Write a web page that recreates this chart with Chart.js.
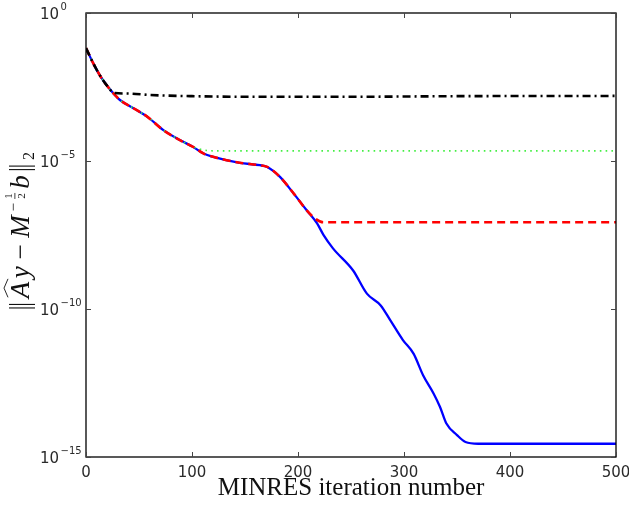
<!DOCTYPE html>
<html>
<head>
<meta charset="utf-8">
<script src="https://cdn.jsdelivr.net/npm/chart.js@4.4.1/dist/chart.umd.min.js"></script>
<style>
  html, body { margin: 0; padding: 0; background: #fff; }
</style>
</head>
<body>
<canvas id="residual_chart" width="629" height="505"></canvas>
<script>
// residual norm history per MINRES iteration, one pair of arrays per run
const itsSolid = [0, 7, 14, 22, 27, 32, 45, 58, 73, 89, 101, 111, 120, 145, 164, 171, 183, 196, 208, 218, 224, 233, 252, 265, 278, 287, 299, 309, 318, 328, 334, 340, 350, 358, 370, 500];
const resSolid = [6.5e-2, 1.95e-2, 6.9e-3, 2.8e-3, 1.74e-3, 1.15e-3, 6.0e-4, 3.1e-4, 1.1e-4, 5.0e-5, 3.0e-5, 1.78e-5, 1.38e-5, 8.7e-6, 7.2e-6, 6.3e-6, 2.9e-6, 7.9e-7, 2.2e-7, 7.8e-8, 3.2e-8, 1.12e-8, 2.0e-9, 3.3e-10, 1.32e-10, 4.2e-11, 8.9e-12, 3.1e-12, 5.8e-13, 1.38e-13, 4.9e-14, 1.35e-14, 5.5e-15, 3.2e-15, 2.8e-15, 2.8e-15];

const itsDashed = [0, 7, 14, 22, 27, 32, 45, 58, 73, 89, 101, 111, 120, 145, 164, 171, 183, 196, 208, 216, 224, 500];
const resDashed = [6.5e-2, 1.95e-2, 6.9e-3, 2.8e-3, 1.74e-3, 1.15e-3, 6.0e-4, 3.1e-4, 1.1e-4, 5.0e-5, 3.0e-5, 1.78e-5, 1.38e-5, 8.7e-6, 7.2e-6, 6.3e-6, 2.9e-6, 7.9e-7, 2.2e-7, 1.15e-7, 8.5e-8, 8.5e-8];

const itsDotted = [0, 7, 14, 22, 27, 32, 45, 58, 73, 89, 101, 106, 120, 500];
const resDotted = [6.5e-2, 1.95e-2, 6.9e-3, 2.8e-3, 1.74e-3, 1.15e-3, 6.0e-4, 3.1e-4, 1.1e-4, 5.0e-5, 3.0e-5, 2.6e-5, 2.2e-5, 2.2e-5];

const itsDashDot = [0, 7, 14, 22, 26, 40, 60, 100, 150, 250, 350, 500];
const resDashDot = [6.5e-2, 1.95e-2, 6.9e-3, 2.8e-3, 2.0e-3, 1.9e-3, 1.7e-3, 1.55e-3, 1.48e-3, 1.48e-3, 1.55e-3, 1.58e-3];

const xTicks = [0, 100, 200, 300, 400, 500];
const yTickExps = [0, -5, -10, -15];
const xTitle = "MINRES iteration number";

const pts = (its, res) => its.map((it, i) => ({ x: it, y: res[i] }));

const line = (data, color, width, dash, order) => ({
  data,
  borderColor: color,
  borderWidth: width,
  borderDash: dash,
  pointRadius: 0,
  fill: false,
  order,
  cubicInterpolationMode: "monotone",
});

// frame, inward ticks on all four sides, tick labels and axis titles
const axesPlugin = {
  id: "axes",
  afterDraw(chart) {
    const { ctx, chartArea: a, scales } = chart;
    const xs = scales.x, ys = scales.y;
    ctx.save();

    ctx.strokeStyle = "#000";
    ctx.lineWidth = 1.3;
    ctx.strokeRect(a.left, a.top, a.right - a.left, a.bottom - a.top);

    ctx.strokeStyle = "#444";
    ctx.lineWidth = 1;
    const tl = 5;
    xTicks.forEach((v) => {
      const px = Math.round(xs.getPixelForValue(v)) + 0.5;
      ctx.beginPath();
      ctx.moveTo(px, a.bottom); ctx.lineTo(px, a.bottom - tl);
      ctx.moveTo(px, a.top); ctx.lineTo(px, a.top + tl);
      ctx.stroke();
    });
    yTickExps.forEach((e) => {
      const py = Math.round(ys.getPixelForValue(Math.pow(10, e))) + 0.5;
      ctx.beginPath();
      ctx.moveTo(a.left, py); ctx.lineTo(a.left + tl, py);
      ctx.moveTo(a.right, py); ctx.lineTo(a.right - tl, py);
      ctx.stroke();
    });

    ctx.fillStyle = "#2a2a2a";
    ctx.textBaseline = "alphabetic";
    ctx.font = '15px "DejaVu Sans"';
    ctx.textAlign = "center";
    xTicks.forEach((v) => {
      ctx.fillText(String(v), xs.getPixelForValue(v), a.bottom + 20);
    });

    ctx.textAlign = "left";
    yTickExps.forEach((e) => {
      const py = ys.getPixelForValue(Math.pow(10, e));
      ctx.font = '15px "DejaVu Sans"';
      ctx.fillText("10", 40, py + 6);
      const w = ctx.measureText("10").width;
      ctx.font = '10px "DejaVu Sans"';
      ctx.fillText(e === 0 ? "0" : "\u2212" + String(-e), 40 + w + 1.5, py - 3.5);
    });

    ctx.fillStyle = "#111";
    ctx.font = '25px "Liberation Serif"';
    ctx.textAlign = "center";
    ctx.fillText(xTitle, (a.left + a.right) / 2, 495);

    drawYTitle(ctx, 29, (a.top + a.bottom) / 2 - 4, 158);
    ctx.restore();
  },
};

// ‖Ây − M^(−1/2) b‖₂ rotated along the left edge, spread over `len` px
function drawYTitle(ctx, bx, cy, len) {
  const up = '27px "Liberation Serif"';
  const it = 'italic 27px "Liberation Serif"';
  const runs = [
    { norm: true, w: 8 },
    { t: "A", f: it, dy: 0, hat: true },
    { t: "y", f: it, dy: 0 },
    { t: "\u2212", f: up, dy: 0, pad: 3 },
    { t: "M", f: it, dy: 0 },
    { t: "\u2212", f: '15px "Liberation Serif"', dy: -11 },
    { frac: true, w: 7 },
    { t: "b", f: it, dy: 0 },
    { norm: true, w: 8 },
    { t: "2", f: '16px "Liberation Serif"', dy: 5 },
  ];
  let total = 0;
  runs.forEach((r) => {
    if (r.t) { ctx.font = r.f; r.w = ctx.measureText(r.t).width + 2 * (r.pad || 0); }
    total += r.w;
  });
  const gap = Math.max(0, (len - total) / (runs.length - 1));
  ctx.save();
  ctx.translate(bx, cy);
  ctx.rotate(-Math.PI / 2);
  ctx.textAlign = "left";
  ctx.textBaseline = "alphabetic";
  ctx.strokeStyle = ctx.fillStyle;
  let x = -(total + gap * (runs.length - 1)) / 2;
  runs.forEach((r) => {
    if (r.norm) {
      ctx.fillRect(x + 1.5, -20, 1.1, 26);
      ctx.fillRect(x + 5, -20, 1.1, 26);
    } else if (r.frac) {
      ctx.font = '11px "Liberation Serif"';
      ctx.textAlign = "center";
      ctx.fillText("1", x + r.w / 2, -17);
      ctx.fillText("2", x + r.w / 2, -4);
      ctx.fillRect(x + 0.5, -14.5, r.w - 1, 0.8);
      ctx.textAlign = "left";
    } else {
      ctx.font = r.f;
      ctx.fillText(r.t, x + (r.pad || 0), r.dy);
      if (r.hat) {
        ctx.beginPath();
        ctx.lineWidth = 0.9;
        ctx.moveTo(x + 1, -21);
        ctx.lineTo(x + r.w / 2 + 2, -25);
        ctx.lineTo(x + r.w + 3, -21);
        ctx.stroke();
      }
    }
    x += r.w + gap;
  });
  ctx.restore();
}

new Chart(document.getElementById("residual_chart"), {
  type: "line",
  data: {
    datasets: [
      line(pts(itsSolid, resSolid), "#0000ff", 2.3, [], 3),
      line(pts(itsDotted, resDotted), "#44ee44", 1.6, [1.6, 4.2], 2),
      line(pts(itsDashed, resDashed), "#ff0000", 2.6, [8, 5], 1),
      line(pts(itsDashDot, resDashDot), "#000000", 2.6, [8, 4, 2, 4], 0),
    ],
  },
  options: {
    responsive: false,
    devicePixelRatio: 1,
    animation: false,
    layout: { padding: { left: 86, right: 13, top: 13, bottom: 48 } },
    plugins: { legend: { display: false }, tooltip: { enabled: false } },
    scales: {
      x: { type: "linear", min: 0, max: 500, display: false },
      y: { type: "logarithmic", min: 1e-15, max: 1, display: false },
    },
  },
  plugins: [axesPlugin],
});
</script>
</body>
</html>
